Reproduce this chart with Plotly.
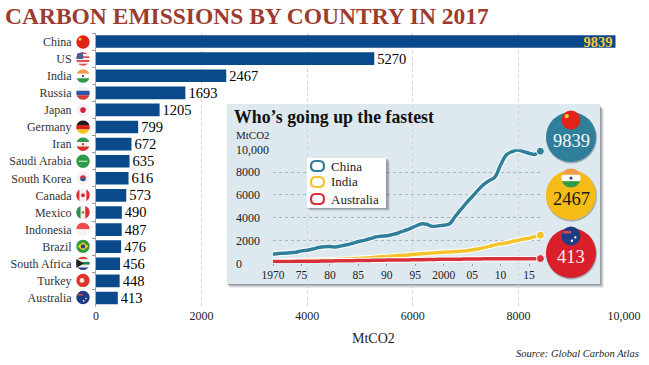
import math
import plotly.graph_objects as go

W, H = 649, 365
SERIF = "Liberation Serif"
INK = "#222222"

countries = ["China", "US", "India", "Russia", "Japan", "Germany", "Iran", "Saudi Arabia",
             "South Korea", "Canada", "Mexico", "Indonesia", "Brazil", "South Africa", "Turkey", "Australia"]
emissions = [9839, 5270, 2467, 1693, 1205, 799, 672, 635, 616, 573, 490, 487, 476, 456, 448, 413]

years = list(range(1970, 2018))
china = [800, 850, 890, 930, 970, 1090, 1150, 1250, 1380, 1460, 1470, 1440, 1530, 1620, 1760, 1910,
         2010, 2150, 2310, 2380, 2410, 2520, 2660, 2850, 3020, 3250, 3450, 3420, 3240, 3280, 3340, 3450,
         4090, 4700, 5300, 5840, 6400, 6900, 7250, 7560, 8620, 9500, 9790, 9940, 9800, 9650, 9550, 9839]
india = [190, 200, 210, 215, 225, 240, 255, 270, 285, 300, 310, 330, 350, 375, 400, 430,
         460, 490, 530, 570, 600, 640, 680, 710, 750, 790, 840, 870, 900, 940, 980, 1000,
         1030, 1060, 1100, 1170, 1250, 1350, 1480, 1620, 1720, 1780, 1900, 2000, 2120, 2200, 2340, 2467]
australia = [150, 155, 160, 165, 170, 175, 180, 185, 190, 195, 205, 215, 220, 225, 230, 240,
             245, 255, 265, 275, 280, 285, 290, 295, 300, 305, 315, 325, 340, 345, 350, 355,
             360, 365, 375, 380, 385, 390, 395, 400, 400, 400, 405, 405, 405, 408, 410, 413]

inset_x_ticks = [1970, 1975, 1980, 1985, 1990, 1995, 2000, 2005, 2010, 2015]
inset_x_labels = ["1970", "75", "80", "85", "90", "95", "2000", "05", "10", "15"]
inset_y_ticks = [0, 2000, 4000, 6000, 8000, 10000]
inset_y_labels = ["0", "2000", "4000", "6000", "8000", "10,000"]
main_x_ticks = [0, 2000, 4000, 6000, 8000, 10000]
main_x_labels = ["0", "2000", "4000", "6000", "8000", "10,000"]

NAVY = "#0b4a8a"
TEAL, YEL, RED = "#2f7f9b", "#f4c22b", "#d8303b"


def px(x):
    return x / W


def py(y):
    return 1 - y / H


shapes = []


def poly(points, color):
    d = "M" + " L".join(f"{px(a):.5f},{py(b):.5f}" for a, b in points) + " Z"
    return dict(type="path", path=d, xref="paper", yref="paper", fillcolor=color,
                line=dict(width=0), layer="above")


def disc(cx, cy, r, color, line=None):
    return dict(type="circle", xref="paper", yref="paper", x0=px(cx - r), x1=px(cx + r),
                y0=py(cy + r), y1=py(cy - r), fillcolor=color, layer="above",
                line=dict(width=0 if line is None else 1, color=line or color))


def band(cx, cy, r, a, b, color, vertical=False):
    """Slice of a circle between offsets a and b (fractions of r)."""
    n = 12
    pts = []
    for i in range(n + 1):
        t = a + (b - a) * i / n
        pts.append((t * r, math.sqrt(max(0, 1 - t * t)) * r))
    for i in range(n, -1, -1):
        t = a + (b - a) * i / n
        pts.append((t * r, -math.sqrt(max(0, 1 - t * t)) * r))
    if vertical:
        return poly([(cx + u, cy + v) for u, v in pts], color)
    return poly([(cx + v, cy + u) for u, v in pts], color)


def flag(name, cx, cy, r):
    s = []
    def bands(cols, vertical=False):
        n = len(cols)
        for i, c in enumerate(cols):
            s.append(band(cx, cy, r, -1 + 2 * i / n, -1 + 2 * (i + 1) / n, c, vertical))
    if name == "China":
        s.append(disc(cx, cy, r, "#e2231a"))
        s.append(disc(cx - r * .45, cy - r * .4, r * .22, "#f7d417"))
    elif name == "US":
        bands(["#d9535a", "#f4eeee", "#d9535a", "#f4eeee", "#d9535a", "#f4eeee", "#d9535a"])
        s.append(poly([(cx - r * .85, cy - r * .85), (cx, cy - r), (cx, cy), (cx - r, cy)], "#4b5f94"))
    elif name == "India":
        bands(["#f2994a", "#fbfbf5", "#2f9a4b"])
        s.append(disc(cx, cy, r * .17, "#2a3f8f"))
    elif name == "Russia":
        bands(["#f1f1f3", "#2b59a8", "#dc3a37"])
    elif name == "Japan":
        s.append(disc(cx, cy, r, "#f5f1f1"))
        s.append(disc(cx, cy, r * .42, "#cf2145"))
    elif name == "Germany":
        bands(["#1c1c1c", "#d3231f", "#f6c21c"])
    elif name == "Iran":
        bands(["#2f9a52", "#f8f5f2", "#d8322f"])
        s.append(disc(cx, cy, r * .18, "#c8403c"))
    elif name == "Saudi Arabia":
        s.append(disc(cx, cy, r, "#2f9a47"))
        s.append(band(cx, cy, r * .65, -.1, .15, "#e8f3e4"))
    elif name == "South Korea":
        s.append(disc(cx, cy, r, "#f5f2f2"))
        s.append(band(cx, cy, r * .45, -1, 0, "#cf2b3e"))
        s.append(band(cx, cy, r * .45, 0, 1, "#2a4a93"))
    elif name == "Canada":
        bands(["#dc2f34", "#f8f3f2", "#f8f3f2", "#dc2f34"], True)
        s.append(disc(cx, cy, r * .3, "#dc2f34"))
    elif name == "Mexico":
        bands(["#2f8a50", "#f5f2ea", "#d9303a"], True)
        s.append(disc(cx, cy, r * .2, "#9c7a3c"))
    elif name == "Indonesia":
        bands(["#ef4b4b", "#f8f3f1"])
    elif name == "Brazil":
        s.append(disc(cx, cy, r, "#2f9a3f"))
        s.append(poly([(cx - r * .82, cy), (cx, cy - r * .6), (cx + r * .82, cy), (cx, cy + r * .6)], "#f5d21d"))
        s.append(disc(cx, cy, r * .33, "#25408f"))
    elif name == "South Africa":
        bands(["#d4452f", "#f0f0e8", "#1f7f4d", "#f0f0e8", "#233f8a"])
        s.append(poly([(cx - r, cy - r * .7), (cx + r * .1, cy), (cx - r, cy + r * .7)], "#1f1f1f"))
    elif name == "Turkey":
        s.append(disc(cx, cy, r, "#e1342c"))
        s.append(disc(cx - r * .15, cy, r * .36, "#f8e8e4"))
    elif name == "Australia":
        s.append(disc(cx, cy, r, "#1f3d85"))
        s.append(band(cx - r * .4, cy - r * .4, r * .42, -.3, .3, "#d94a50"))
        s.append(disc(cx + r * .45, cy + r * .15, r * .12, "#ffffff"))
        s.append(disc(cx + r * .1, cy + r * .5, r * .13, "#ffffff"))
    return s


def to_dom(x0, x1, y0, y1):
    return dict(xref="x domain", yref="y domain", x0=(x0 - 96) / 528, x1=(x1 - 96) / 528,
                y0=(306.5 - y1) / 273.5, y1=(306.5 - y0) / 273.5)


for off, op in ((4, .10), (3, .14), (2, .20), (1, .25)):
    shapes.append(dict(type="rect", layer="below", fillcolor=f"rgba(60,70,80,{op})", line=dict(width=0),
                       **to_dom(227 + off - 1, 600 + off, 105 + off, 284 + off)))
shapes.append(dict(type="rect", layer="below", fillcolor="#dde8ef", line=dict(width=0),
                   **to_dom(227, 600, 104, 284)))

for i, name in enumerate(countries):
    shapes += flag(name, 83, 42 + i * 17.03, 6.7)

for off, op in ((3, .12), (2, .18), (1, .25)):
    shapes.append(dict(type="rect", xref="paper", yref="paper", layer="above", line=dict(width=0),
                       fillcolor=f"rgba(60,70,80,{op})",
                       x0=px(307 + off), x1=px(387 + off), y0=py(208 + off), y1=py(158 + off)))
shapes.append(dict(type="rect", xref="paper", yref="paper", layer="above", line=dict(width=0),
                   fillcolor="#ffffff", x0=px(307), x1=px(386), y0=py(208), y1=py(158)))
for yy, c in ((166, TEAL), (182, YEL), (199, RED)):
    r = 4.5
    x0, x1, y0, y1 = 311, 324, yy - 5, yy + 5
    path = (f"M{px(x0+r):.5f},{py(y0):.5f} L{px(x1-r):.5f},{py(y0):.5f} "
            f"Q{px(x1):.5f},{py(y0):.5f} {px(x1):.5f},{py(yy):.5f} "
            f"Q{px(x1):.5f},{py(y1):.5f} {px(x1-r):.5f},{py(y1):.5f} "
            f"L{px(x0+r):.5f},{py(y1):.5f} Q{px(x0):.5f},{py(y1):.5f} {px(x0):.5f},{py(yy):.5f} "
            f"Q{px(x0):.5f},{py(y0):.5f} {px(x0+r):.5f},{py(y0):.5f} Z")
    shapes.append(dict(type="path", path=path, xref="paper", yref="paper", layer="above",
                       fillcolor="#ffffff", line=dict(color=c, width=2.2)))

badges = [("China", 137, TEAL, "#f4f8fa", 9839), ("India", 195, "#f5bb16", "#1a1a1a", 2467),
          ("Australia", 253, "#d9202a", "#fbeeee", 413)]
annotations = []
for name, cy, col, tc, val in badges:
    shapes.append(disc(571.5, cy + 1, 25.5, "rgba(50,60,70,.35)"))
    shapes.append(disc(571, cy, 25, col))
    shapes += flag(name, 571, cy - 17, 9.5)
    annotations.append(dict(text=str(val), xref="paper", yref="paper", x=px(571), y=py(cy + 4),
                            showarrow=False, xanchor="center", yanchor="middle",
                            font=dict(family=SERIF, size=18.5, color=tc)))


def note(text, x, y, size, color=INK, anchor="left", bold=False, italic=False):
    if bold:
        text = f"<b>{text}</b>"
    if italic:
        text = f"<i>{text}</i>"
    annotations.append(dict(text=text, xref="paper", yref="paper", x=px(x), y=py(y), showarrow=False,
                            xanchor=anchor, yanchor="middle",
                            font=dict(family=SERIF, size=size, color=color)))


note("Who’s going up the fastest", 232, 117, 17.8, "#111111", bold=True)
note("MtCO2", 234, 135, 11)
note("China", 329, 166, 13)
note("India", 329, 182, 13)
note("Australia", 329, 199, 13)
note("MtCO2", 373, 338, 14, anchor="center")
note("Source: Global Carbon Atlas", 641, 353, 10.5, anchor="right", italic=True)

fig = go.Figure()

fig.add_trace(go.Bar(
    y=countries, x=emissions, orientation="h", marker=dict(color=NAVY, line=dict(width=0)),
    text=[f"<b>{v}</b>" if i == 0 else str(v) for i, v in enumerate(emissions)],
    textposition=["inside"] + ["outside"] * (len(emissions) - 1),
    insidetextanchor="end", constraintext="none", cliponaxis=False,
    textfont=dict(family=SERIF, size=14.5,
                  color=["#f4c83a"] + ["#000000"] * (len(emissions) - 1)),
    hoverinfo="skip", xaxis="x", yaxis="y", showlegend=False))

for name, vals, col in (("China", china, TEAL), ("India", india, YEL), ("Australia", australia, RED)):
    fig.add_trace(go.Scatter(x=years, y=vals, mode="lines", line=dict(color="#ffffff", width=5.5, shape="spline"),
                             xaxis="x2", yaxis="y2", showlegend=False, hoverinfo="skip", cliponaxis=False))
    fig.add_trace(go.Scatter(x=years, y=vals, mode="lines", name=name,
                             line=dict(color=col, width=3.5, shape="spline"),
                             xaxis="x2", yaxis="y2", showlegend=False, cliponaxis=False))
    fig.add_trace(go.Scatter(x=years[-1:], y=vals[-1:], mode="markers",
                             marker=dict(color=col, size=8, line=dict(color="#ffffff", width=1)),
                             xaxis="x2", yaxis="y2", showlegend=False, hoverinfo="skip", cliponaxis=False))

fig.update_layout(
    width=W, height=H, autosize=False, margin=dict(l=0, r=0, t=0, b=0, autoexpand=False),
    paper_bgcolor="#ffffff", plot_bgcolor="rgba(0,0,0,0)", showlegend=False, bargap=0.26,
    font=dict(family=SERIF, color=INK, size=12),
    title=dict(text="<b>CARBON EMISSIONS BY COUNTRY IN 2017</b>", x=5 / W, xanchor="left",
               y=1 - 15.5 / H, yanchor="middle", xref="paper", automargin=False,
               font=dict(family=SERIF, size=23.5, color="#9c3c30")),
    xaxis=dict(domain=[96 / W, 624 / W], range=[0, 10000], tickvals=main_x_ticks, ticktext=main_x_labels,
               showgrid=True, gridcolor="#d2d2d2", griddash="dot", gridwidth=1, zeroline=False,
               showline=False, ticks="", tickfont=dict(family=SERIF, size=12, color=INK),
               anchor="y", automargin=False),
    yaxis=dict(domain=[1 - 306.5 / H, 1 - 33 / H], autorange="reversed", tickson="boundaries", ticks="outside",
               ticklen=3, tickcolor="#999999", ticklabelstandoff=21, showline=True, linecolor="#a8a8a8",
               linewidth=1, showgrid=False, zeroline=False, tickfont=dict(family=SERIF, size=12, color="#333333"),
               anchor="x", type="category", categoryorder="array", categoryarray=countries, automargin=False),
    xaxis2=dict(domain=[273 / W, 540.4 / W], range=[1970, 2017], tickvals=inset_x_ticks, ticktext=inset_x_labels,
                showgrid=False, zeroline=False, showline=False, ticks="outside", ticklen=2, tickcolor="#999999",
                ticklabelstandoff=-1, tickfont=dict(family=SERIF, size=11.5, color=INK), anchor="y2", automargin=False),
    yaxis2=dict(domain=[1 - 263.3 / H, 1 - 149.3 / H], range=[0, 10000], tickvals=inset_y_ticks,
                ticktext=[lab + "\u00a0" * round((33 - (len(lab.replace(",", "")) * 6 + lab.count(",") * 3)) / 3)
                          for lab in inset_y_labels],
                showgrid=True, gridcolor="#aab4ba", griddash="dot", gridwidth=1, zeroline=False,
                showline=False, ticks="", ticklabelstandoff=3,
                tickfont=dict(family=SERIF, size=12, color=INK), anchor="x2", automargin=False),
    shapes=shapes, annotations=annotations,
)

fig.write_html("out.html", config=dict(displayModeBar=False),
               post_script="document.body.style.margin='0';document.body.style.overflow='hidden';")
